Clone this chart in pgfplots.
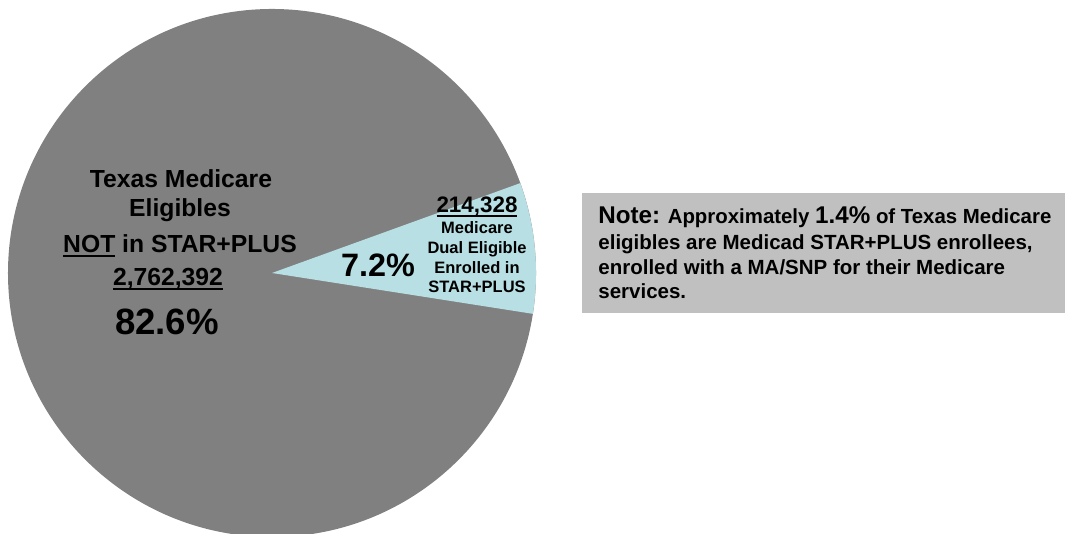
\documentclass[border=0pt]{standalone}
\usepackage{pgfplots}
\pgfplotsset{compat=1.18}
\usepackage{fontspec}
\setmainfont{Liberation Sans}

\definecolor{pieGray}{HTML}{808080}
\definecolor{pieBlue}{HTML}{B8E0E4}
\definecolor{noteGray}{HTML}{C0C0C0}

% bold text at a given size (bp)
\newcommand\fs[1]{\fontsize{#1bp}{#1bp}\selectfont\bfseries}
% heavier underline than \underline
\newcommand\ul[1]{\setbox0\hbox{#1}\rlap{\rule[-2.2bp]{\wd0}{1bp}}\box0\relax}

\begin{document}
\begin{tikzpicture}
\begin{axis}[
    x=0.5bp, y=0.5bp,
    xmin=0, xmax=1068, ymin=0, ymax=534,
    scale only axis,
    hide axis,
    clip=false,
]
% pie centre (272,261), radius 264 units
% slices: not in STAR+PLUS 2,762,392 (82.6%), in STAR+PLUS 214,328 (7.2%)
\fill[pieGray] (axis cs:272,261) circle[radius=132bp];
\fill[pieBlue] (axis cs:272,261) -- ++(-8.9:132bp)
    arc[start angle=-8.9, end angle=19.9, radius=132bp] -- cycle;

% label of the large slice
\node[anchor=base] at (axis cs:181,346) {\fs{12.35}Texas Medicare};
\node[anchor=base] at (axis cs:180,317) {\fs{12.35}Eligibles};
\node[anchor=base] at (axis cs:180,281) {\fs{12.35}\ul{NOT} in STAR+PLUS};
\node[anchor=base] at (axis cs:168,248) {\fs{12.35}\ul{2,762,392}};
\node[anchor=base] at (axis cs:167,199) {\fs{18.3}82.6\%};

% label of the small slice
\node[anchor=base] at (axis cs:378,257) {\fs{16.2}7.2\%};
\node[anchor=base] at (axis cs:477,321) {\fs{11.2}\ul{214,328}};
\node[anchor=base] at (axis cs:477,300) {\fs{8.25}Medicare};
\node[anchor=base] at (axis cs:477,280) {\fs{8.25}Dual Eligible};
\node[anchor=base] at (axis cs:477,260) {\fs{8.25}Enrolled in};
\node[anchor=base] at (axis cs:477,241) {\fs{8.25}STAR+PLUS};

% note box
\fill[noteGray] (axis cs:582,221) rectangle (axis cs:1065,341);
\node[anchor=base west, inner sep=0pt] at (axis cs:598,310)
    {\fs{10.2}{\fs{12.1}Note:} Approximately {\fs{12.1}1.4\%} of Texas Medicare};
\node[anchor=base west, inner sep=0pt] at (axis cs:598,284)
    {\fs{10.25}eligibles are Medicad STAR+PLUS enrollees,};
\node[anchor=base west, inner sep=0pt] at (axis cs:598,259)
    {\fs{10.25}enrolled with a MA/SNP for their Medicare};
\node[anchor=base west, inner sep=0pt] at (axis cs:598,235)
    {\fs{10.25}services.};

\coordinate (bl) at (axis cs:0,0);
\coordinate (tr) at (axis cs:1068,534);
\end{axis}
\pgfresetboundingbox
\useasboundingbox (bl) rectangle (tr);
\end{tikzpicture}
\end{document}
